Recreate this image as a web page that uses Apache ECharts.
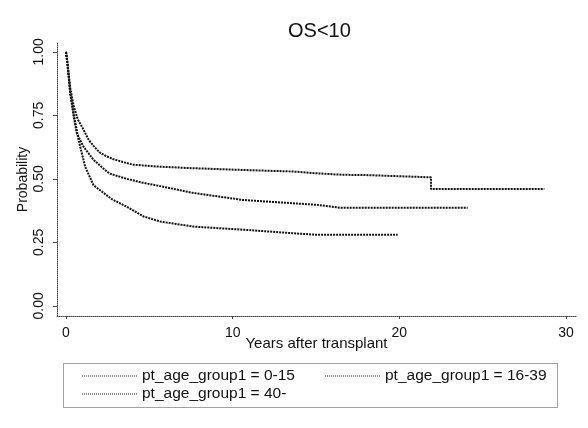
<!DOCTYPE html>
<html>
<head>
<meta charset="utf-8">
<script src="https://cdn.jsdelivr.net/npm/echarts@6/dist/echarts.min.js"></script>
<style>
html,body{margin:0;padding:0;background:#fff;}
#chart{width:588px;height:428px;}
</style>
</head>
<body>
<div id="chart"></div>
<script>
// ---- data (Kaplan-Meier curves) ----
const chartTitle = 'OS<10';
const seriesNames = ['pt_age_group1 = 0-15', 'pt_age_group1 = 16-39', 'pt_age_group1 = 40-'];

const timesA = [0, 0.1, 0.25, 0.45, 0.7, 1.0, 1.35, 1.65, 2.0, 2.4, 2.85, 3.5, 4.0, 4.6, 5.6, 7.6, 10.6, 13.6, 15.0, 16.6, 18.0, 21.9, 21.9, 28.7];
const survA  = [1.0, 0.95, 0.86, 0.79, 0.735, 0.70, 0.655, 0.63, 0.605, 0.59, 0.577, 0.565, 0.556, 0.553, 0.548, 0.542, 0.535, 0.529, 0.522, 0.516, 0.515, 0.506, 0.46, 0.46];

const timesB = [0, 0.1, 0.25, 0.45, 0.65, 1.05, 1.65, 2.45, 2.65, 3.65, 4.6, 5.6, 7.6, 10.6, 13.6, 15.0, 16.5, 24.1];
const survB  = [1.0, 0.95, 0.84, 0.75, 0.68, 0.627, 0.575, 0.529, 0.52, 0.50, 0.485, 0.472, 0.445, 0.417, 0.404, 0.398, 0.386, 0.386];

const timesC = [0, 0.1, 0.25, 0.45, 0.75, 1.15, 1.65, 2.45, 2.75, 3.65, 4.65, 5.65, 7.65, 10.6, 13.6, 15.0, 19.9];
const survC  = [1.0, 0.94, 0.84, 0.76, 0.654, 0.548, 0.475, 0.435, 0.42, 0.39, 0.352, 0.332, 0.312, 0.30, 0.286, 0.28, 0.28];

const xTicks = [0, 10, 20, 30];
const yTicks = [0, 0.25, 0.5, 0.75, 1];

const xName = 'Years after transplant';
const yName = 'Probability';

// ---- build chart ----
function pairs(t, s) { return t.map((v, i) => [v, s[i]]); }
const ink = '#111';
const font = 'Liberation Sans, Arial, sans-serif';

// dotted legend sample: a row of small squares
let dotPath = 'path://';
for (let i = 0; i < 28; i++) { dotPath += 'M' + (i * 2) + ',0h1v1h-1z'; }

function kmSeries(name, t, s) {
  return {
    name: name,
    type: 'line',
    showSymbol: false,
    symbol: 'none',
    animation: false,
    data: pairs(t, s),
    lineStyle: { color: ink, width: 2, type: [2, 1] },
    itemStyle: { color: ink }
  };
}

function legendAt(left, top, name) {
  return {
    show: true,
    data: [{ name: name, icon: dotPath }],
    left: left, top: top,
    padding: 0,
    itemWidth: 55, itemHeight: 1.5,
    itemGap: 0,
    itemStyle: { color: '#222', borderWidth: 0 },
    textStyle: { fontFamily: font, fontSize: 15.5, color: ink, lineHeight: 15 },
    selectedMode: false
  };
}

const chart = echarts.init(document.getElementById('chart'), null, { renderer: 'canvas' });
chart.setOption({
  backgroundColor: '#fff',
  animation: false,
  title: {
    text: chartTitle,
    left: 283, top: 16,
    textStyle: { fontFamily: font, fontSize: 20, fontWeight: 'normal', color: ink }
  },
  grid: { left: 57, right: 12, top: 43, bottom: 112, containLabel: false },
  xAxis: {
    type: 'value',
    min: -0.54, max: 30.6,
    name: xName,
    nameLocation: 'middle',
    nameGap: 20,
    nameMoveOverlap: false,
    nameTextStyle: { fontFamily: font, fontSize: 15, color: ink },
    splitLine: { show: false },
    axisLine: { show: true, onZero: false, lineStyle: { color: '#444', width: 1, type: 'dotted' } },
    axisTick: { show: true, length: 3, customValues: xTicks, lineStyle: { color: '#444' } },
    axisLabel: { customValues: xTicks, margin: 10, fontFamily: font, fontSize: 14, color: ink }
  },
  yAxis: {
    type: 'value',
    min: -0.04, max: 1.035,
    name: yName,
    nameLocation: 'middle',
    nameGap: 27,
    nameMoveOverlap: false,
    nameRotate: 90,
    nameTextStyle: { fontFamily: font, fontSize: 14, color: ink },
    splitLine: { show: false },
    axisLine: { show: true, onZero: false, lineStyle: { color: '#444', width: 1, type: 'dotted' } },
    axisTick: { show: true, length: 4, customValues: yTicks, lineStyle: { color: '#444' } },
    axisLabel: {
      customValues: yTicks, rotate: 90, margin: 11,
      fontFamily: font, fontSize: 14, color: ink,
      formatter: v => v.toFixed(2)
    }
  },
  legend: [
    legendAt(82, 368, seriesNames[0]),
    legendAt(325, 368, seriesNames[1]),
    legendAt(82, 386, seriesNames[2])
  ],
  graphic: [{
    type: 'rect',
    shape: { x: 63.5, y: 363.5, width: 494, height: 44 },
    style: { fill: null, stroke: '#444', lineWidth: 1, lineDash: [1, 1] },
    silent: true
  }],
  series: [
    kmSeries(seriesNames[0], timesA, survA),
    kmSeries(seriesNames[1], timesB, survB),
    kmSeries(seriesNames[2], timesC, survC)
  ]
});
</script>
</body>
</html>
